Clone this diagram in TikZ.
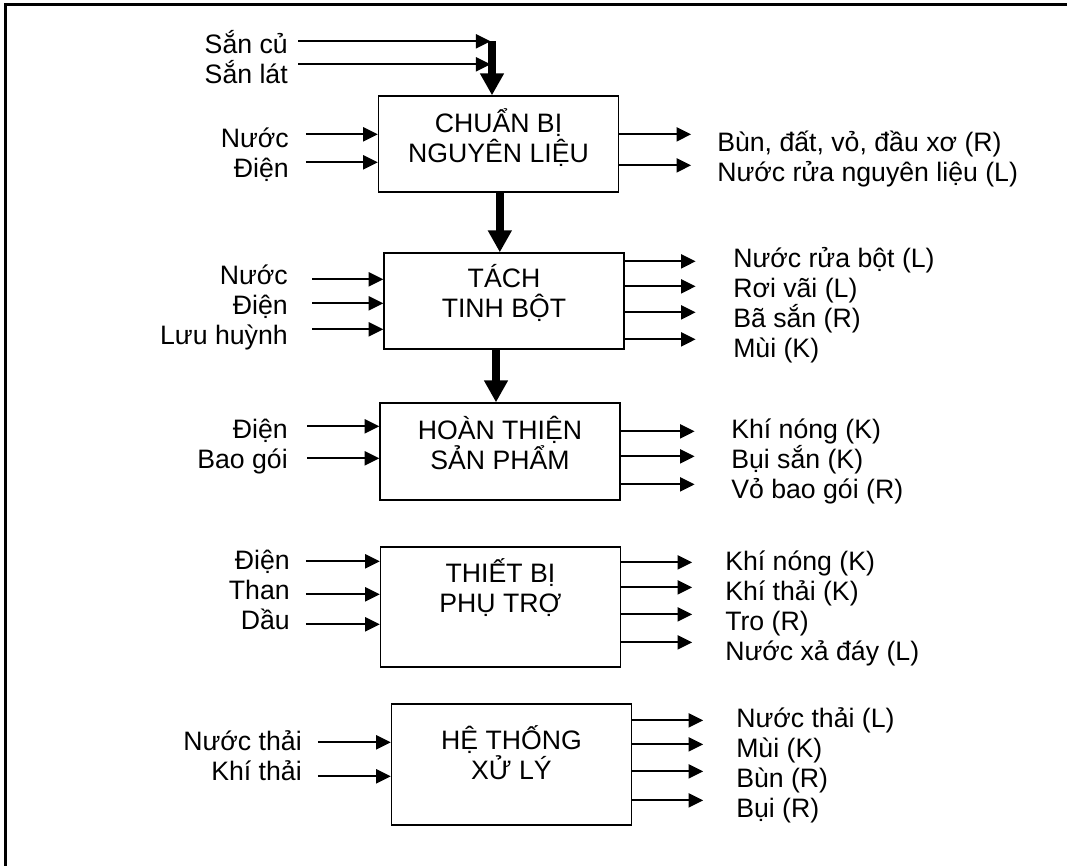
\documentclass[tikz,border=0pt]{standalone}
\usepackage{fontspec}
\setmainfont{Liberation Sans}
\usetikzlibrary{arrows.meta,positioning}
\newcommand{\capstrut}{\rule{0pt}{24pt}}

\begin{document}
\begin{tikzpicture}[
    x=0.75pt, y=-0.75pt,
    font=\fontsize{20}{22.5}\selectfont,
    block/.style={draw, line width=1pt, inner sep=0pt,
                  minimum width=180pt, minimum height=#1},
    block/.default=72pt,
    title/.style={align=center, inner sep=0pt},
    inlist/.style={align=right, inner sep=0pt, anchor=north east},
    outlist/.style={align=left, inner sep=0pt, anchor=north west},
    arrow/.style={-{Triangle[length=11pt, width=10.5pt]}, line width=1.6pt},
    flow/.style={-{Triangle[length=16.5pt, width=17pt]}, line width=5.5pt},
]
\useasboundingbox (0,0) rectangle (1068,866);
\draw[line width=2.25pt] (5,866) -- (5,5) -- (1067,5);

% Stages
\node[block] (b1) at (498.5,144) {};
\node[block] (b2) at (504,301) {};
\node[block=72.75pt] (b3) at (500,451.5) {};
\node[block=90pt] (b4) at (500.5,607) {};
\node[block=90.75pt] (b5) at (511.5,764.5) {};

\node[title, below=3.75pt of b1.north] (t1) {\capstrut CHUẨN BỊ\\NGUYÊN LIỆU};
\node[title, below=2.25pt of b2.north] (t2) {\capstrut TÁCH\\TINH BỘT};
\node[title, below=3.75pt of b3.north] (t3) {\capstrut HOÀN THIỆN\\SẢN PHẨM};
\node[title, below=3pt of b4.north] (t4) {\capstrut THIẾT BỊ\\PHỤ TRỢ};
\node[title, below=10.5pt of b5.north] (t5) {\capstrut HỆ THỐNG\\XỬ LÝ};

% Inputs
\node[inlist] (in0) at (288,21) {\capstrut Sắn củ\\Sắn lát};
\node[inlist] (in1) at (289,115) {\capstrut Nước\\Điện};
\node[inlist] (in2) at (288,252) {\capstrut Nước\\Điện\\Lưu huỳnh};
\node[inlist] (in3) at (288,406) {\capstrut Điện\\Bao gói};
\node[inlist] (in4) at (290,537) {\capstrut Điện\\Than\\Dầu};
\node[inlist] (in5) at (302,718) {\capstrut Nước thải\\Khí thải};

% Outputs
\node[outlist] (out1) at (717,119) {\capstrut Bùn, đất, vỏ, đầu xơ (R)\\Nước rửa nguyên liệu (L)};
\node[outlist] (out2) at (733,235) {\capstrut Nước rửa bột (L)\\Rơi vãi (L)\\Bã sắn (R)\\Mùi (K)};
\node[outlist] (out3) at (731,406) {\capstrut Khí nóng (K)\\Bụi sắn (K)\\Vỏ bao gói (R)};
\node[outlist] (out4) at (725,538) {\capstrut Khí nóng (K)\\Khí thải (K)\\Tro (R)\\Nước xả đáy (L)};
\node[outlist] (out5) at (736,695) {\capstrut Nước thải (L)\\Mùi (K)\\Bùn (R)\\Bụi (R)};

% Main flow
\draw[flow] (b1.north) ++(-6.5,-54) -- ++(0,54);
\draw[flow] ([xshift=1pt]b1.south) -- ([xshift=1pt]b1.south |- b2.north);
\draw[flow] ([xshift=-6pt]b2.south) -- ([xshift=-6pt]b2.south |- b3.north);

% Input arrows
\draw[arrow] (b1.north) ++(-200.5,-54) -- ++(192.5,0);
\draw[arrow] (b1.north) ++(-200.5,-31) -- ++(192.5,0);
\draw[arrow] (b1.north west) ++(-72,39) -- ++(72,0);
\draw[arrow] (b1.north west) ++(-72,67) -- ++(72,0);
\draw[arrow] (b2.north west) ++(-71,27) -- ++(71,0);
\draw[arrow] (b2.north west) ++(-71,51) -- ++(71,0);
\draw[arrow] (b2.north west) ++(-71,77) -- ++(71,0);
\draw[arrow] (b3.north west) ++(-72,24) -- ++(72,0);
\draw[arrow] (b3.north west) ++(-72,56) -- ++(72,0);
\draw[arrow] (b4.north west) ++(-74,15) -- ++(74,0);
\draw[arrow] (b4.north west) ++(-74,48) -- ++(74,0);
\draw[arrow] (b4.north west) ++(-74,78) -- ++(74,0);
\draw[arrow] (b5.north west) ++(-73,39) -- ++(73,0);
\draw[arrow] (b5.north west) ++(-73,73) -- ++(73,0);

% Output arrows
\draw[arrow] (b1.north east) ++(0,39) -- ++(72,0);
\draw[arrow] (b1.north east) ++(0,70) -- ++(72,0);
\draw[arrow] (b2.north east) ++(0,9) -- ++(71,0);
\draw[arrow] (b2.north east) ++(0,34) -- ++(71,0);
\draw[arrow] (b2.north east) ++(0,60) -- ++(71,0);
\draw[arrow] (b2.north east) ++(0,87) -- ++(71,0);
\draw[arrow] (b3.north east) ++(0,29) -- ++(74,0);
\draw[arrow] (b3.north east) ++(0,54) -- ++(74,0);
\draw[arrow] (b3.north east) ++(0,82) -- ++(74,0);
\draw[arrow] (b4.north east) ++(0,16) -- ++(71,0);
\draw[arrow] (b4.north east) ++(0,41) -- ++(71,0);
\draw[arrow] (b4.north east) ++(0,68) -- ++(71,0);
\draw[arrow] (b4.north east) ++(0,96) -- ++(71,0);
\draw[arrow] (b5.north east) ++(0,17) -- ++(71,0);
\draw[arrow] (b5.north east) ++(0,41) -- ++(71,0);
\draw[arrow] (b5.north east) ++(0,68) -- ++(71,0);
\draw[arrow] (b5.north east) ++(0,97) -- ++(71,0);
\end{tikzpicture}
\end{document}
